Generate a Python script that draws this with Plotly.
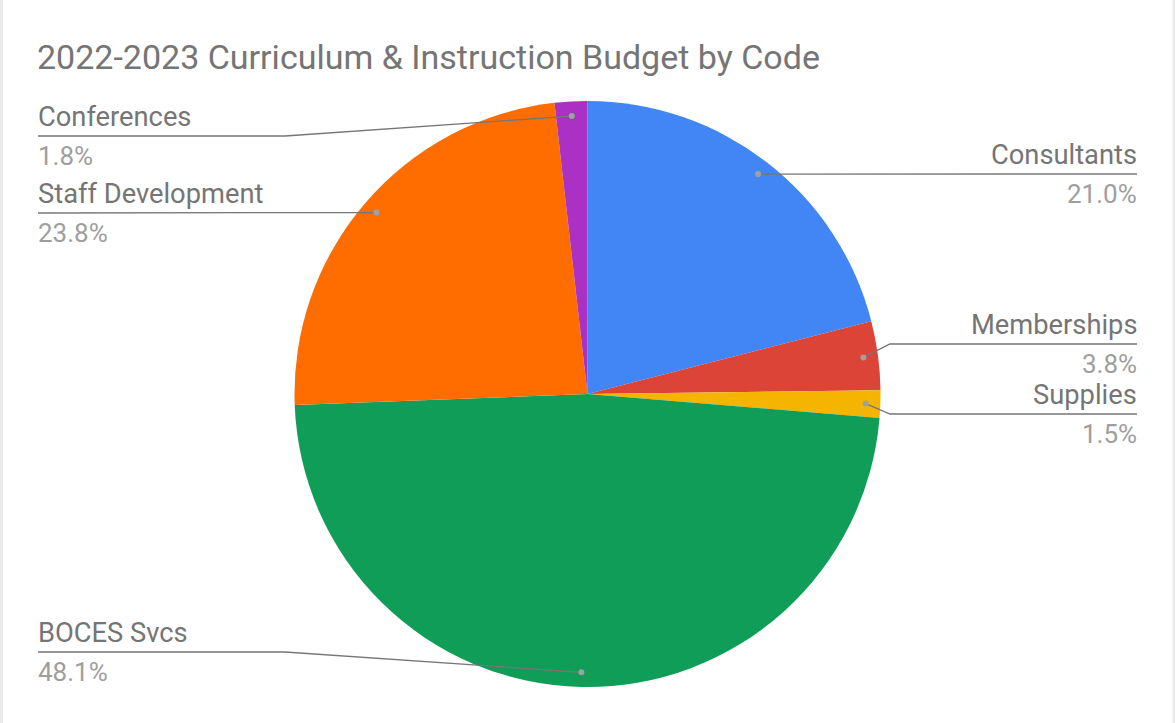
import math
import plotly.graph_objects as go

# ---- data ----
categories = ["Consultants", "Memberships", "Supplies", "BOCES Svcs", "Staff Development", "Conferences"]
shares = [21.0, 3.8, 1.5, 48.1, 23.8, 1.8]
pct_labels = ["21.0%", "3.8%", "1.5%", "48.1%", "23.8%", "1.8%"]
colors = ["#4285F4", "#DB4437", "#F4B400", "#0F9D58", "#FF6D01", "#AB30C4"]
title_text = "2022-2023 Curriculum & Instruction Budget by Code"

# ---- layout (pixels) ----
W, H = 1175, 723
CX, CY, R = 587.5, 394.0, 293.0
# label placement: side and y of the leader line (px)
label_side = ["right", "right", "right", "left", "left", "left"]
label_line_y = [174, 344, 414, 652, 213, 136]
LEFT_X, RIGHT_X = 38, 1137
ELBOW_DX = 302.5
DOT_FRAC = 0.95
NAME_COLOR = "#757575"
PCT_COLOR = "#9E9E9E"
LINE_COLOR = "#767676"
FONT = "Roboto"


def px(x):
    return x / W


def py(y):
    return 1 - y / H


fig = go.Figure()
fig.add_trace(go.Pie(
    labels=categories,
    values=shares,
    sort=False,
    direction="clockwise",
    rotation=0,
    marker=dict(colors=colors, line=dict(width=0)),
    textinfo="none",
    hoverinfo="label+percent",
    showlegend=False,
    domain=dict(x=[px(CX - R), px(CX + R)], y=[py(CY + R), py(CY - R)]),
))

shapes = []
annotations = []
total = sum(shares)
cum = 0.0
for name, val, pct, side, ly in zip(categories, shares, pct_labels, label_side, label_line_y):
    mid = (cum + val / 2) / total * 2 * math.pi
    cum += val
    dx = math.sin(mid) * R * DOT_FRAC
    dy = -math.cos(mid) * R * DOT_FRAC
    dot_x, dot_y = CX + dx, CY + dy
    if side == "right":
        elbow_x = CX + ELBOW_DX
        end_x = RIGHT_X
        text_x = RIGHT_X + 1.5
        xanchor = "right"
    else:
        elbow_x = CX - ELBOW_DX
        end_x = LEFT_X
        text_x = LEFT_X - 2.5
        xanchor = "left"
    if abs(dot_y - ly) < 1.5:
        path = f"M {px(dot_x)} {py(dot_y)} L {px(end_x)} {py(ly)}"
    else:
        path = (f"M {px(dot_x)} {py(dot_y)} L {px(elbow_x)} {py(ly)} "
                f"L {px(end_x)} {py(ly)}")
    shapes.append(dict(type="path", path=path, xref="paper", yref="paper",
                       line=dict(color=LINE_COLOR, width=1.3)))
    shapes.append(dict(type="circle", xref="paper", yref="paper",
                       x0=px(dot_x - 3), x1=px(dot_x + 3),
                       y0=py(dot_y + 3), y1=py(dot_y - 3),
                       fillcolor="#A0A0A0", line=dict(width=0)))
    annotations.append(dict(text=name, x=px(text_x), y=py(ly - 1), xref="paper", yref="paper",
                            xanchor=xanchor, yanchor="bottom", showarrow=False,
                            font=dict(family=FONT, size=27.3, color=NAME_COLOR)))
    annotations.append(dict(text=pct, x=px(text_x), y=py(ly + 3), xref="paper", yref="paper",
                            xanchor=xanchor, yanchor="top", showarrow=False,
                            font=dict(family=FONT, size=26, color=PCT_COLOR)))

annotations.append(dict(text=title_text, x=px(LEFT_X - 3), y=py(57), xref="paper", yref="paper",
                        xanchor="left", yanchor="middle", showarrow=False,
                        font=dict(family=FONT, size=34, color=NAME_COLOR)))

# thin grey frame strips at page edges
shapes.append(dict(type="rect", xref="paper", yref="paper", x0=0, x1=px(3), y0=0, y1=1,
                   fillcolor="#EBEBEB", line=dict(width=0), layer="below"))
shapes.append(dict(type="rect", xref="paper", yref="paper", x0=px(1172.5), x1=1, y0=0, y1=1,
                   fillcolor="#EBEBEB", line=dict(width=0), layer="below"))

fig.update_layout(
    width=W, height=H,
    margin=dict(l=0, r=0, t=0, b=0),
    paper_bgcolor="white",
    plot_bgcolor="white",
    shapes=shapes,
    annotations=annotations,
    font=dict(family=FONT),
)

fig.write_html("out.html", config={"displayModeBar": False},
               post_script="document.body.style.margin='0';")
